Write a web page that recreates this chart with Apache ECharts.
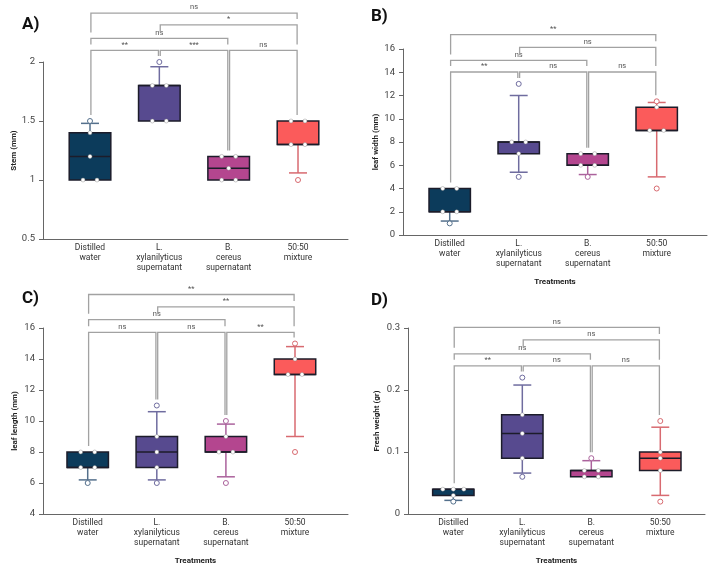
<!DOCTYPE html>
<html>
<head>
<meta charset="utf-8">
<script src="https://cdn.jsdelivr.net/npm/echarts@6/dist/echarts.min.js"></script>
<style>
html, body { margin: 0; padding: 0; background: #fff; }
#chart { width: 708px; height: 570px; }
</style>
</head>
<body>
<div id="chart"></div>
<script>
var categories = ['Distilled\nwater', 'L.\nxylanilyticus\nsupernatant', 'B.\ncereus\nsupernatant', '50:50\nmixture']
var boxColors = ['#0c3b5b', '#574a8f', '#b4468f', '#fb5b5b']
var whiskerColors = ['#54708c', '#6f6c9f', '#ab629c', '#d86a70']

// A) stem  -- boxes are [whisker low, Q1, median, Q3, whisker high]
var stemBoxes = [[1.0, 1.0, 1.2, 1.4, 1.48], [1.5, 1.5, 1.8, 1.8, 1.96], [1.0, 1.0, 1.1, 1.2, 1.2], [1.06, 1.3, 1.3, 1.5, 1.5]]
var stemPoints = [[1.0, 1.0, 1.2, 1.4], [1.5, 1.5, 1.8, 1.8], [1.0, 1.0, 1.1, 1.2, 1.2], [1.3, 1.3, 1.5, 1.5]]
var stemOutliers = [[1.5], [2.0], [], [1.0]]
var stemSig = [[0, 1, '**'], [1, 2, '***'], [2, 3, 'ns'], [0, 2, 'ns'], [1, 3, '*'], [0, 3, 'ns']]
var stemSigLevels = [2.098, 2.098, 2.098, 2.2, 2.314, 2.415]
var stemTicks = [0.5, 2, 0.5]

// B) leaf width
var widthBoxes = [[1.2, 2, 2, 4, 4], [5.4, 7, 8, 8, 12], [5.2, 6, 6, 7, 7], [5, 9, 9, 11, 11.4]]
var widthPoints = [[2, 2, 4, 4], [7, 8, 8], [6, 6, 7, 7], [9, 9, 11]]
var widthOutliers = [[1], [5, 13], [5], [4, 11.5]]
var widthSig = [[0, 1, '**'], [1, 2, 'ns'], [2, 3, 'ns'], [0, 2, 'ns'], [1, 3, 'ns'], [0, 3, '**']]
var widthSigLevels = [14.02, 14.02, 14.02, 15.02, 16.14, 17.23]
var widthTicks = [0, 16, 2]

// C) leaf length
var lengthBoxes = [[6.2, 7, 7, 8, 8], [6.2, 7, 8, 9, 10.6], [6.4, 8, 8, 9, 9.8], [9, 13, 13, 14, 14.8]]
var lengthPoints = [[7, 7, 8, 8], [7, 8, 9], [8, 8, 9], [13, 13, 14]]
var lengthOutliers = [[6], [6, 11], [6, 10], [8, 15]]
var lengthSig = [[0, 1, 'ns'], [1, 2, 'ns'], [2, 3, '**'], [0, 2, 'ns'], [1, 3, '**'], [0, 3, '**']]
var lengthSigLevels = [15.72, 15.72, 15.72, 16.54, 17.36, 18.16]
var lengthTicks = [4, 16, 2]

// D) fresh weight
var weightBoxes = [[0.022, 0.03, 0.04, 0.04, 0.04], [0.066, 0.09, 0.13, 0.16, 0.208], [0.06, 0.06, 0.07, 0.07, 0.086], [0.03, 0.07, 0.09, 0.1, 0.14]]
var weightPoints = [[0.03, 0.04, 0.04, 0.04], [0.09, 0.13, 0.16], [0.06, 0.06, 0.07, 0.07], [0.07, 0.09, 0.1]]
var weightOutliers = [[0.02], [0.06, 0.22], [0.09], [0.02, 0.15]]
var weightSig = [[0, 1, '**'], [1, 2, 'ns'], [2, 3, 'ns'], [0, 2, 'ns'], [1, 3, 'ns'], [0, 3, 'ns']]
var weightSigLevels = [0.239, 0.239, 0.239, 0.2584, 0.2807, 0.301]
var weightTicks = [0, 0.3, 0.1]

var FONT = 'Roboto'

var panels = [
    { tag: 'A)', yName: 'Stem (mm)', boxes: stemBoxes, points: stemPoints, outliers: stemOutliers, sig: stemSig, levels: stemSigLevels, ticks: stemTicks,
      grid: { left: 43, top: 62, width: 305, height: 177 }, xRange: [-0.678, 3.721], nameGap: 25, xName: '', tagPos: [22, 16] },
    { tag: 'B)', yName: 'leaf width (mm)', boxes: widthBoxes, points: widthPoints, outliers: widthOutliers, sig: widthSig, levels: widthSigLevels, ticks: widthTicks,
      grid: { left: 403, top: 49, width: 304, height: 186 }, xRange: [-0.677, 3.729], nameGap: 23, xName: 'Treatments', tagPos: [371, 8] },
    { tag: 'C)', yName: 'leaf length (mm)', boxes: lengthBoxes, points: lengthPoints, outliers: lengthOutliers, sig: lengthSig, levels: lengthSigLevels, ticks: lengthTicks,
      grid: { left: 43, top: 328, width: 305, height: 186 }, xRange: [-0.647, 3.767], nameGap: 24, xName: 'Treatments', tagPos: [22, 290] },
    { tag: 'D)', yName: 'Fresh weight (gr)', boxes: weightBoxes, points: weightPoints, outliers: weightOutliers, sig: weightSig, levels: weightSigLevels, ticks: weightTicks,
      grid: { left: 408, top: 328, width: 297, height: 186 }, xRange: [-0.657, 3.648], nameGap: 27, xName: 'Treatments', tagPos: [371, 292] }
]

function buildPoints(points, outliers) {
    var out = []
    points.forEach(function (vals, g) {
        var counts = {}, seen = {}
        vals.forEach(function (v) { counts[v] = (counts[v] || 0) + 1 })
        vals.forEach(function (v) {
            var slot = seen[v] || 0
            seen[v] = slot + 1
            out.push([g, v, slot, counts[v], 0])
        })
        outliers[g].forEach(function (v) { out.push([g, v, 0, 1, 1]) })
    })
    return out
}

// drop of each bracket stops just above whatever sits below it
function buildBrackets(p) {
    function dataTop(k) {
        return Math.max.apply(null, [p.boxes[k][4]].concat(p.points[k], p.outliers[k]))
    }
    return p.sig.map(function (s, n) {
        function obstacle(k) {
            var top = dataTop(k)
            p.sig.forEach(function (o, m) {
                if (p.levels[m] < p.levels[n] && o[0] <= k && k <= o[1]) top = Math.max(top, p.levels[m])
            })
            return top
        }
        return [s[0], s[1], p.levels[n], obstacle(s[0]), obstacle(s[1])]
    })
}

function renderBox(params, api) {
    var g = api.value(0)
    var low = api.coord([g, api.value(1)])
    var q1 = api.coord([g, api.value(2)])
    var med = api.coord([g, api.value(3)])
    var q3 = api.coord([g, api.value(4)])
    var high = api.coord([g, api.value(5)])
    var half = api.size([0.6, 0])[0] / 2
    var cap = api.size([0.26, 0])[0] / 2
    var cx = q1[0]
    var wStyle = { stroke: whiskerColors[g], lineWidth: 1.5 }
    var kids = []
    if (high[1] < q3[1] - 0.5) {
        kids.push({ type: 'line', shape: { x1: cx, y1: q3[1], x2: cx, y2: high[1] }, style: wStyle })
        kids.push({ type: 'line', shape: { x1: cx - cap, y1: high[1], x2: cx + cap, y2: high[1] }, style: wStyle })
    }
    if (low[1] > q1[1] + 0.5) {
        kids.push({ type: 'line', shape: { x1: cx, y1: q1[1], x2: cx, y2: low[1] }, style: wStyle })
        kids.push({ type: 'line', shape: { x1: cx - cap, y1: low[1], x2: cx + cap, y2: low[1] }, style: wStyle })
    }
    kids.push({ type: 'rect', shape: { x: cx - half, y: q3[1], width: half * 2, height: q1[1] - q3[1] },
        style: { fill: boxColors[g], stroke: '#1c1c2a', lineWidth: 1.5 } })
    kids.push({ type: 'line', shape: { x1: cx - half, y1: med[1], x2: cx + half, y2: med[1] }, style: { stroke: '#1c1c2a', lineWidth: 1.5 } })
    return { type: 'group', children: kids }
}

function renderPoint(params, api) {
    var g = api.value(0), n = api.value(3), slot = api.value(2)
    var p = api.coord([g, api.value(1)])
    var step = n > 2 ? 10.5 : 14
    var x = p[0] + (slot - (n - 1) / 2) * step
    if (api.value(4)) {
        return { type: 'circle', shape: { cx: x, cy: p[1], r: 2.5 }, style: { fill: '#fff', stroke: whiskerColors[g], lineWidth: 1 } }
    }
    return { type: 'circle', shape: { cx: x, cy: p[1], r: 2 }, style: { fill: '#fff', stroke: 'rgba(130,130,130,0.7)', lineWidth: 0.6 } }
}

function makeBracketRender(labels) {
    return function (params, api) {
        var a = api.coord([api.value(0), api.value(2)])
        var b = api.coord([api.value(1), api.value(2)])
        var ya = api.coord([api.value(0), api.value(3)])[1] - 6
        var yb = api.coord([api.value(1), api.value(4)])[1] - 6
        return { type: 'group', children: [
            { type: 'polyline', shape: { points: [[a[0] + 0.9, ya], [a[0] + 0.9, a[1]], [b[0] - 0.9, b[1]], [b[0] - 0.9, yb]] },
              style: { stroke: '#a2a2a2', lineWidth: 1.3, fill: null } },
            { type: 'text', style: { text: labels[params.dataIndex], x: (a[0] + b[0]) / 2, y: a[1] - 1.5,
              align: 'center', verticalAlign: 'bottom', fontSize: 7.5, fontFamily: FONT, fill: '#555' } }
        ] }
    }
}

var option = { animation: false, backgroundColor: '#fff', title: [], grid: [], xAxis: [], yAxis: [], series: [] }

panels.forEach(function (p, i) {
    option.title.push({ text: p.tag, left: p.tagPos[0], top: p.tagPos[1], padding: 0,
        textStyle: { fontSize: 17, fontWeight: 'bold', color: '#111', fontFamily: FONT } })
    option.grid.push(p.grid)
    option.xAxis.push({
        gridIndex: i, type: 'value', min: p.xRange[0], max: p.xRange[1],
        name: p.xName, nameLocation: 'middle', nameGap: 43,
        nameTextStyle: { fontSize: 8, fontWeight: 'bold', color: '#222', fontFamily: FONT },
        axisLine: { show: true, onZero: false, lineStyle: { color: '#666', width: 1 } },
        axisTick: { show: false }, splitLine: { show: false },
        axisLabel: { customValues: [0, 1, 2, 3], formatter: function (v) { return categories[Math.round(v)] },
            fontSize: 8.5, lineHeight: 10, color: '#333', margin: 4, fontFamily: FONT }
    })
    option.yAxis.push({
        gridIndex: i, type: 'value', min: p.ticks[0], max: p.ticks[1], interval: p.ticks[2],
        name: p.yName, nameLocation: 'middle', nameGap: p.nameGap,
        nameTextStyle: { fontSize: 8, fontWeight: 'bold', color: '#222', fontFamily: FONT },
        axisLine: { show: true, onZero: false, lineStyle: { color: '#666', width: 1 } },
        axisTick: { show: true, length: 4, lineStyle: { color: '#666' } },
        splitLine: { show: false },
        axisLabel: { fontSize: 9.5, color: '#444', margin: 8, fontFamily: FONT }
    })
    option.series.push({
        type: 'custom', xAxisIndex: i, yAxisIndex: i, z: 2, renderItem: renderBox,
        data: p.boxes.map(function (b, g) { return [g].concat(b) })
    })
    option.series.push({
        type: 'custom', xAxisIndex: i, yAxisIndex: i, z: 3, renderItem: renderPoint,
        data: buildPoints(p.points, p.outliers)
    })
    option.series.push({
        type: 'custom', xAxisIndex: i, yAxisIndex: i, z: 1, clip: false,
        renderItem: makeBracketRender(p.sig.map(function (s) { return s[2] })),
        data: buildBrackets(p)
    })
})

var chart = echarts.init(document.querySelector('#chart'))
chart.setOption(option)
</script>
</body>
</html>
